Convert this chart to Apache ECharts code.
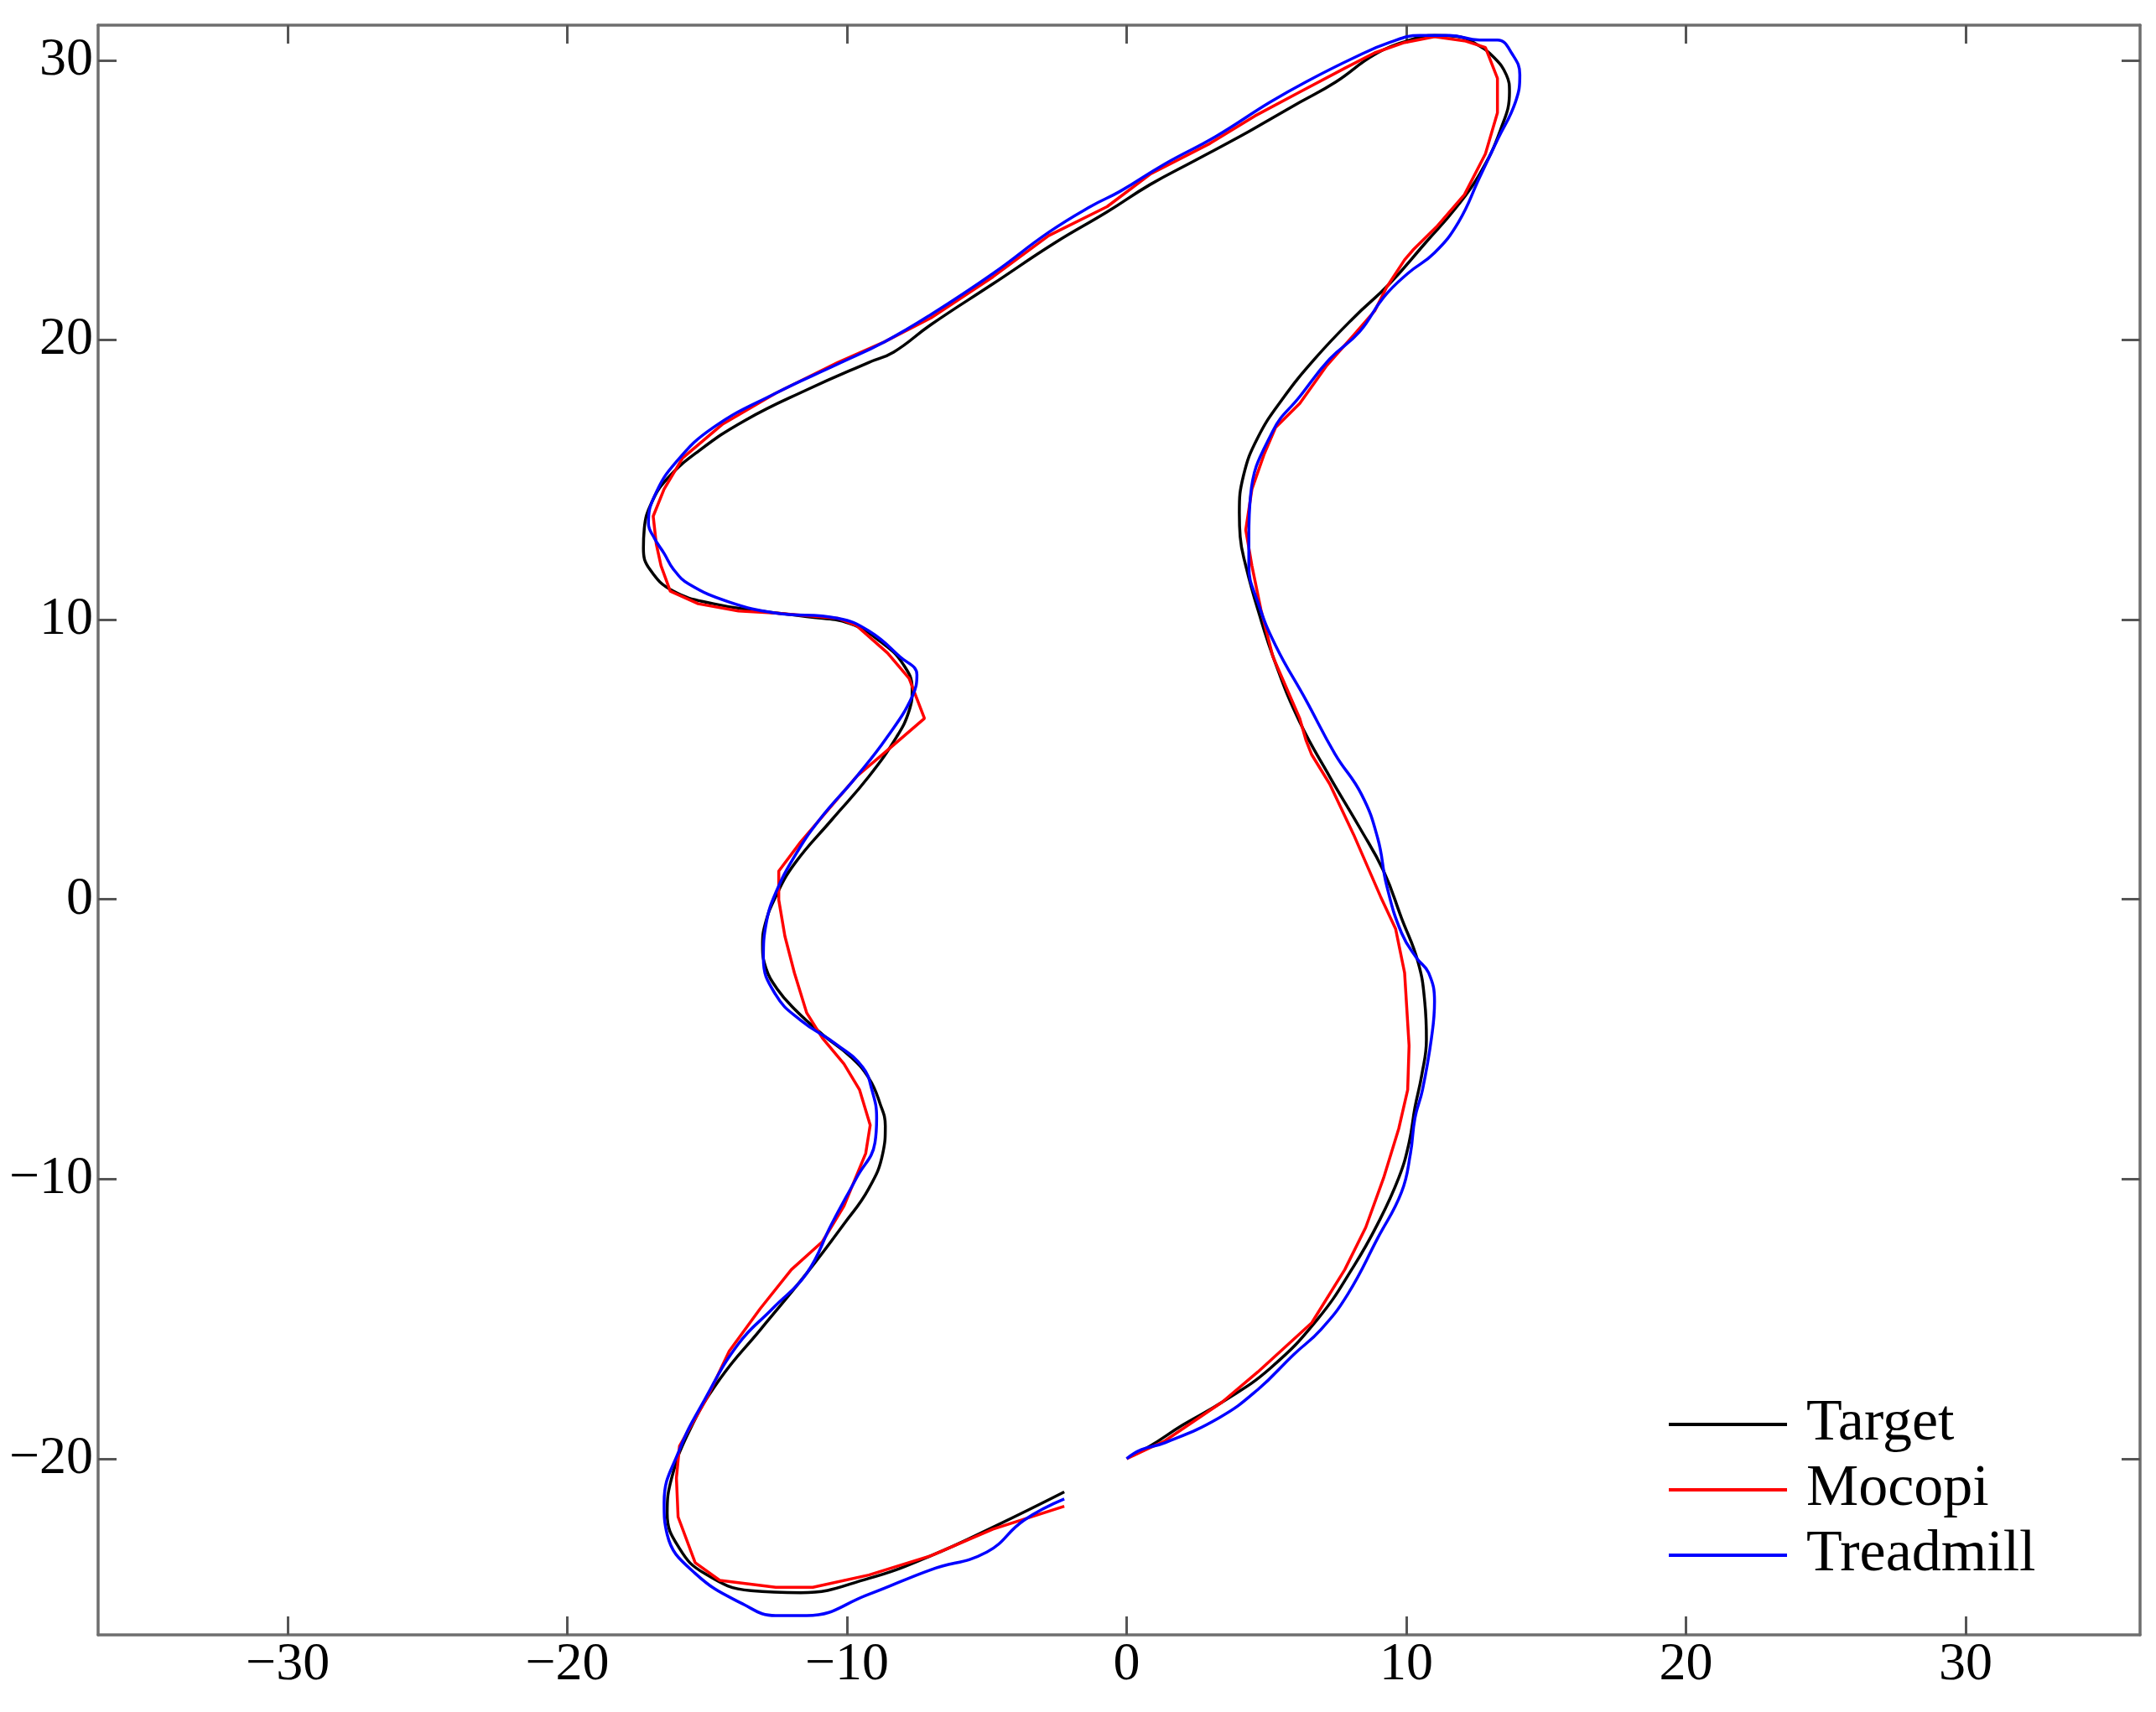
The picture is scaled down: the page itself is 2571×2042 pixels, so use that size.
<!DOCTYPE html>
<html>
<head>
<meta charset="utf-8">
<script src="https://cdn.jsdelivr.net/npm/echarts@6/dist/echarts.min.js"></script>
<style>
html,body{margin:0;padding:0;background:#fff;}
#chart{width:2571px;height:2042px;}
</style>
</head>
<body>
<div id="chart"></div>
<script>
// Tick values for both axes
const xTicks = [-30, -20, -10, 0, 10, 20, 30];
const yTicks = [-20, -10, 0, 10, 20, 30];
const seriesNames = ['Target', 'Mocopi', 'Treadmill'];

// Target path [x, y]
const targetPath = [
[0.2,-19.9],[0.84,-19.55],[2.0,-18.8],[3.41,-17.98],[5.12,-16.78],[6.83,-15.01],[8.12,-13.12],[8.98,-11.60],[9.73,-9.96],[10.10,-8.70],[10.31,-7.44],[10.55,-6.3],[10.72,-5.0],[10.66,-3.66],[10.42,-2.24],[9.83,-0.67],[9.19,1.01],[8.33,2.57],[7.26,4.39],[6.19,6.34],[5.33,8.42],[4.69,10.37],[4.26,11.93],[4.06,12.97],[4.03,13.82],[4.18,15.16],[4.69,16.51],[5.55,17.86],[6.73,19.33],[8.12,20.80],[9.40,22.01],[10.69,23.48],[11.76,24.71],[12.62,25.93],[13.37,27.52],[13.69,28.87],[13.58,29.48],[13.15,30.09],[12.51,30.58],[11.76,30.86],[11.01,30.89],[10.05,30.70],[8.87,30.21],[7.48,29.23],[6.19,28.50],[5.12,27.89],[4.05,27.28],[2.44,26.42],[0.84,25.56],[-0.70,24.58],[-2.56,23.48],[-4.78,22.01],[-7.0,20.55],[-8.33,19.57],[-9.22,19.20],[-11.44,18.22],[-13.66,17.12],[-15.32,16.02],[-16.43,15.04],[-16.99,14.18],[-17.25,13.25],[-17.28,12.55],[-17.05,11.8],[-16.21,11.02],[-14.77,10.57],[-13.10,10.31],[-11.44,10.11],[-9.89,9.86],[-8.78,9.20],[-8.0,8.42],[-7.67,7.52],[-7.78,6.74],[-8.22,5.82],[-9.22,4.39],[-10.55,2.84],[-11.88,1.27],[-12.55,0.10],[-12.93,-0.9],[-13.02,-1.65],[-12.90,-2.45],[-12.50,-3.2],[-11.88,-3.92],[-10.88,-4.83],[-9.89,-5.61],[-9.22,-6.39],[-8.82,-7.3],[-8.63,-8.1],[-8.72,-9.08],[-9.22,-10.34],[-10.11,-11.61],[-11.44,-13.37],[-13.10,-15.39],[-14.55,-17.16],[-15.66,-19.05],[-16.27,-20.69],[-16.43,-21.95],[-15.99,-23.21],[-15.10,-24.10],[-13.44,-24.72],[-11.66,-24.79],[-9.22,-24.28],[-7.0,-23.47],[-4.78,-22.45],[-2.23,-21.19]
];

// Mocopi path [x, y]
const mocopiPath = [
[0,-20.0],[1.37,-19.36],[3.41,-17.98],[4.69,-16.90],[6.62,-15.14],[7.80,-13.24],[8.55,-11.73],[9.19,-9.96],[9.73,-8.20],[10.05,-6.81],[10.10,-5.23],[9.94,-2.63],[9.62,-1.06],[9.08,0.10],[8.12,2.31],[7.26,4.13],[6.62,5.17],[6.41,5.70],[6.19,6.47],[5.23,8.68],[4.80,10.37],[4.48,11.93],[4.26,13.21],[4.48,14.67],[4.91,15.90],[5.33,16.88],[6.19,17.73],[7.15,19.08],[8.12,20.18],[8.87,21.04],[9.30,21.89],[9.94,22.87],[10.26,23.24],[11.12,24.09],[12.08,25.20],[12.83,26.66],[13.26,28.13],[13.26,29.36],[12.83,30.46],[12.08,30.70],[11.01,30.85],[9.94,30.64],[8.87,30.27],[7.80,29.72],[6.19,28.87],[4.58,28.01],[2.98,27.03],[0.84,25.93],[-0.70,24.77],[-2.79,23.73],[-4.78,22.26],[-7.0,20.79],[-8.67,19.93],[-10.33,19.20],[-12.55,18.10],[-14.44,17.0],[-15.88,15.78],[-16.54,14.67],[-16.93,13.70],[-16.82,12.71],[-16.65,11.93],[-16.32,11.02],[-15.32,10.57],[-13.88,10.31],[-12.55,10.24],[-10.33,10.05],[-9.66,9.79],[-8.55,8.81],[-7.78,7.90],[-7.23,6.47],[-8.44,5.43],[-9.66,4.39],[-10.77,3.09],[-11.66,2.05],[-12.44,1.01],[-12.44,-0.02],[-12.22,-1.32],[-11.88,-2.63],[-11.44,-4.06],[-10.88,-4.96],[-10.11,-5.88],[-9.55,-6.81],[-9.17,-8.07],[-9.33,-9.08],[-10.11,-10.97],[-10.88,-12.24],[-11.99,-13.24],[-13.10,-14.63],[-14.21,-16.15],[-14.99,-17.79],[-15.99,-19.55],[-16.10,-20.69],[-16.04,-22.08],[-15.43,-23.72],[-14.55,-24.35],[-12.55,-24.60],[-11.22,-24.60],[-9.22,-24.16],[-7.0,-23.47],[-4.78,-22.52],[-2.23,-21.70]
];

// Treadmill path [x, y]
const treadmillPath = [
[0,-20.0],[0.52,-19.68],[1.37,-19.43],[3.30,-18.54],[4.69,-17.53],[5.98,-16.27],[6.94,-15.39],[7.90,-14.13],[8.98,-12.11],[9.83,-10.47],[10.15,-9.08],[10.31,-7.82],[10.58,-6.81],[10.90,-4.96],[11.01,-3.66],[10.80,-2.63],[10.37,-2.10],[9.83,-1.20],[9.30,0.49],[8.98,2.18],[8.40,3.75],[7.45,5.2],[6.41,7.13],[5.33,9.07],[4.69,10.63],[4.37,11.93],[4.37,12.97],[4.43,14.43],[5.23,16.75],[6.19,17.98],[7.26,19.32],[8.33,20.30],[9.19,21.53],[10.05,22.38],[11.01,23.12],[11.87,24.22],[12.62,25.81],[13.26,27.16],[13.90,28.50],[14.06,29.48],[13.80,30.21],[13.26,30.73],[12.62,30.73],[11.55,30.89],[10.48,30.89],[9.40,30.64],[8.12,30.09],[6.41,29.23],[5.12,28.50],[3.19,27.28],[1.37,26.30],[-0.23,25.32],[-1.30,24.77],[-2.79,23.85],[-4.78,22.38],[-7.0,20.91],[-8.67,19.93],[-10.33,19.14],[-12.55,18.10],[-14.77,16.88],[-16.10,15.65],[-16.88,14.43],[-17.10,13.45],[-16.88,12.9],[-16.54,12.37],[-16.21,11.81],[-15.66,11.28],[-14.21,10.63],[-12.55,10.24],[-10.33,10.05],[-9.22,9.60],[-8.11,8.68],[-7.50,8.03],[-7.67,7.25],[-8.55,5.82],[-9.66,4.39],[-10.99,2.84],[-11.88,1.53],[-12.55,0.23],[-12.88,-0.81],[-12.99,-2.10],[-12.55,-3.41],[-11.66,-4.32],[-10.33,-5.22],[-9.44,-6.0],[-9.11,-6.81],[-8.94,-7.82],[-9.0,-8.70],[-9.66,-9.96],[-10.55,-11.61],[-11.44,-13.37],[-12.66,-14.63],[-13.88,-15.89],[-15.10,-17.91],[-15.99,-19.68],[-16.54,-21.57],[-16.43,-22.71],[-15.43,-24.10],[-13.66,-25.23],[-12.55,-25.61],[-11.44,-25.61],[-9.22,-24.85],[-7.0,-23.97],[-5.0,-23.34],[-3.67,-22.20],[-2.23,-21.44]
];

const X_MIN = -36.78, X_MAX = 36.24;
const Y_MIN = -26.30, Y_MAX = 31.26;

const AXIS_COLOR = '#6e6e6e';
const FONT = '"Liberation Serif", "DejaVu Serif", serif';
const fmt = v => (v < 0 ? '\u2212' + Math.abs(v) : String(v));

function mkX(pos, showLabel) {
  return {
    type: 'value', position: pos, min: X_MIN, max: X_MAX,
    axisLine: { show: true, onZero: false, lineStyle: { color: AXIS_COLOR, width: 3.5 } },
    axisTick: { show: true, inside: true, length: 22, customValues: xTicks, lineStyle: { color: '#555', width: 3 } },
    axisLabel: { show: showLabel, customValues: xTicks, formatter: fmt, fontFamily: FONT, fontSize: 64, color: '#000', margin: 4 },
    splitLine: { show: false }
  };
}
function mkY(pos, showLabel) {
  return {
    type: 'value', position: pos, min: Y_MIN, max: Y_MAX,
    axisLine: { show: true, onZero: false, lineStyle: { color: AXIS_COLOR, width: 3.5 } },
    axisTick: { show: true, inside: true, length: 22, customValues: yTicks, lineStyle: { color: '#555', width: 3 } },
    axisLabel: { show: showLabel, customValues: yTicks, formatter: fmt, fontFamily: FONT, fontSize: 64, color: '#000', margin: 6 },
    splitLine: { show: false }
  };
}

const chart = echarts.init(document.getElementById('chart'), null, { renderer: 'canvas' });
chart.setOption({
  backgroundColor: '#ffffff',
  animation: false,
  grid: { left: 117, right: 19, top: 30, bottom: 92, containLabel: false },
  xAxis: [mkX('bottom', true), mkX('top', false)],
  yAxis: [mkY('left', true), mkY('right', false)],
  legend: {
    orient: 'vertical', left: 1985, top: 1659,
    icon: 'rect', itemWidth: 141, itemHeight: 4, itemGap: 8,
    textStyle: { fontFamily: FONT, fontSize: 70, color: '#000', lineHeight: 70, padding: [0, 0, 0, 18] },
    data: seriesNames
  },
  series: [
    { name: seriesNames[0], type: 'line', data: targetPath, xAxisIndex: 0, yAxisIndex: 0, showSymbol: false, smooth: 0.45, color: '#000000', lineStyle: { color: '#000000', width: 3.5 } },
    { name: seriesNames[1], type: 'line', data: mocopiPath, xAxisIndex: 0, yAxisIndex: 0, showSymbol: false, smooth: false, color: '#ff0000', lineStyle: { color: '#ff0000', width: 3.5 } },
    { name: seriesNames[2], type: 'line', data: treadmillPath, xAxisIndex: 0, yAxisIndex: 0, showSymbol: false, smooth: 0.45, color: '#0000ff', lineStyle: { color: '#0000ff', width: 3.5 } }
  ]
});
</script>
</body>
</html>
